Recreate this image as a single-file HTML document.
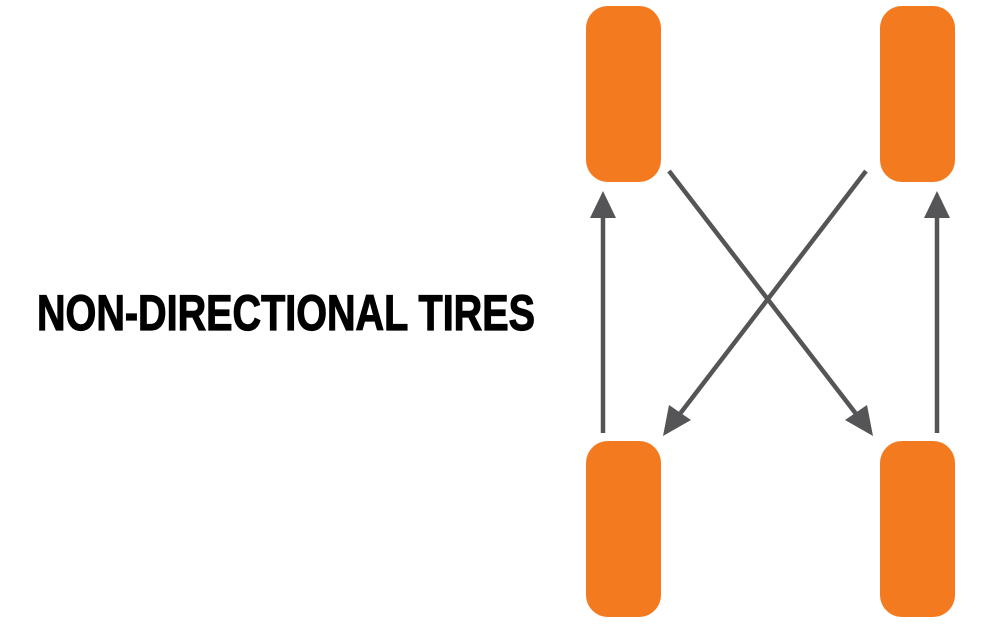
<!DOCTYPE html>
<html><head><meta charset="utf-8"><style>
html,body{margin:0;padding:0;background:#fff;width:1000px;height:625px;overflow:hidden}
</style></head><body>
<svg width="1000" height="625" viewBox="0 0 1000 625" xmlns="http://www.w3.org/2000/svg">
<rect width="1000" height="625" fill="#fff"/>
<g fill="#f47a20">
<rect x="586" y="6" width="75" height="176" rx="22"/>
<rect x="880" y="6" width="75" height="176" rx="22"/>
<rect x="586" y="441" width="75" height="176" rx="22"/>
<rect x="880" y="441" width="75" height="176" rx="22"/>
</g>
<g stroke="#555557" stroke-width="4.5" fill="none">
<line x1="603" y1="433" x2="603" y2="214"/>
<line x1="937" y1="433" x2="937" y2="214"/>
<line x1="669" y1="171" x2="860" y2="419"/>
<line x1="866" y1="171" x2="676" y2="419"/>
</g>
<g fill="#555557">
<polygon points="603,191 590,218 616,218"/>
<polygon points="937,191 924,218 950,218"/>
<polygon points="873,436 845,420 867,405"/>
<polygon points="663,436 669,405 691,420"/>
</g>
<text x="37" y="330" font-family="Liberation Sans, Arial, sans-serif" font-weight="bold" font-size="50" textLength="498" lengthAdjust="spacingAndGlyphs" fill="#000" stroke="#000" stroke-width="1.2">NON-DIRECTIONAL TIRES</text>
</svg>
</body></html>
